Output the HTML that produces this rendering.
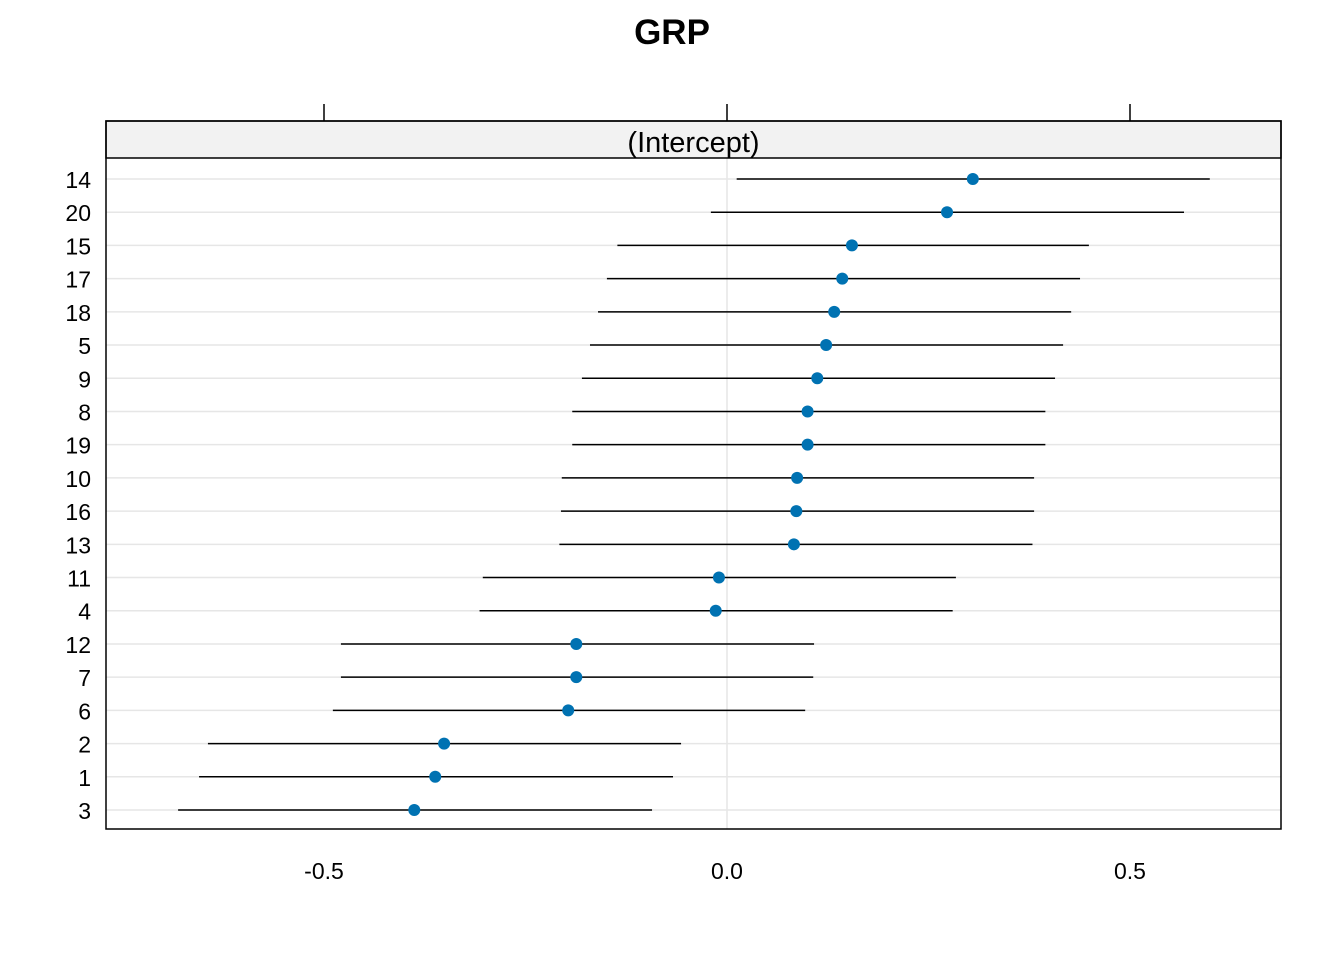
<!DOCTYPE html>
<html><head><meta charset="utf-8"><style>
body{margin:0;background:#fff}
svg text{font-family:"Liberation Sans",Arial,sans-serif}
</style></head><body>
<svg id="c" width="1344" height="960" viewBox="0 0 1344 960" xmlns="http://www.w3.org/2000/svg">
<rect width="1344" height="960" fill="#fff"/>
<text x="672" y="44" text-anchor="middle" font-size="35" font-weight="bold">GRP</text>
<g id="grid"></g>
<g id="marks"></g>
<rect x="106" y="121" width="1175" height="37" fill="#f2f2f2" stroke="#000" stroke-width="1.5"/>
<text x="693.5" y="152" text-anchor="middle" font-size="29">(Intercept)</text>
<rect x="106" y="121" width="1175" height="708" fill="none" stroke="#000" stroke-width="1.5"/>
<g id="axes"></g>
</svg>
<script>
const categories=["14","20","15","17","18","5","9","8","19","10","16","13","11","4","12","7","6","2","1","3"];
const estimates=[0.305,0.273,0.155,0.143,0.133,0.123,0.112,0.100,0.100,0.087,0.086,0.083,-0.010,-0.014,-0.187,-0.187,-0.197,-0.351,-0.362,-0.388];
const lower=[0.012,-0.020,-0.136,-0.149,-0.160,-0.170,-0.180,-0.192,-0.192,-0.205,-0.206,-0.208,-0.303,-0.307,-0.479,-0.479,-0.489,-0.644,-0.655,-0.681];
const upper=[0.599,0.567,0.449,0.438,0.427,0.417,0.407,0.395,0.395,0.381,0.381,0.379,0.284,0.280,0.108,0.107,0.097,-0.057,-0.067,-0.093];
const xTicks=[-0.5,0.0,0.5];
const xTickLabels=["-0.5","0.0","0.5"];
const NS="http://www.w3.org/2000/svg";
function xs(v){return 727+v*806;}
function ys(i){return 179+i*(810-179)/19;}
function mk(tag,attrs,parent){const e=document.createElementNS(NS,tag);for(const k in attrs)e.setAttribute(k,attrs[k]);parent.appendChild(e);return e;}
const grid=document.getElementById('grid'),marks=document.getElementById('marks'),axes=document.getElementById('axes');
let g=mk('line',{x1:xs(0),x2:xs(0),y1:158,y2:829,stroke:'#e6e6e6','stroke-width':1.5},grid);


categories.forEach((c,i)=>{
  const y=ys(i);
  const gl=mk('line',{x1:106,x2:1281,y1:y,y2:y,stroke:'#e6e6e6','stroke-width':1.5},grid);
  
  
  const l=mk('line',{x1:xs(lower[i]),x2:xs(upper[i]),y1:y,y2:y,stroke:'#000','stroke-width':1.5},marks);
  
  
  const p=mk('circle',{cx:xs(estimates[i]),cy:y,r:6,fill:'#0072b2'},marks);
  
  
  const t=mk('text',{x:91,y:y+9,'text-anchor':'end','font-size':23},axes);
  t.textContent=c;
  
  
});
xTicks.forEach((v,i)=>{
  const tk=mk('line',{x1:xs(v),x2:xs(v),y1:104,y2:121,stroke:'#000','stroke-width':1.5},axes);
  
  
  const t=mk('text',{x:xs(v),y:879,'text-anchor':'middle','font-size':23},axes);
  t.textContent=xTickLabels[i];
  
  
});
</script>
</body></html>
